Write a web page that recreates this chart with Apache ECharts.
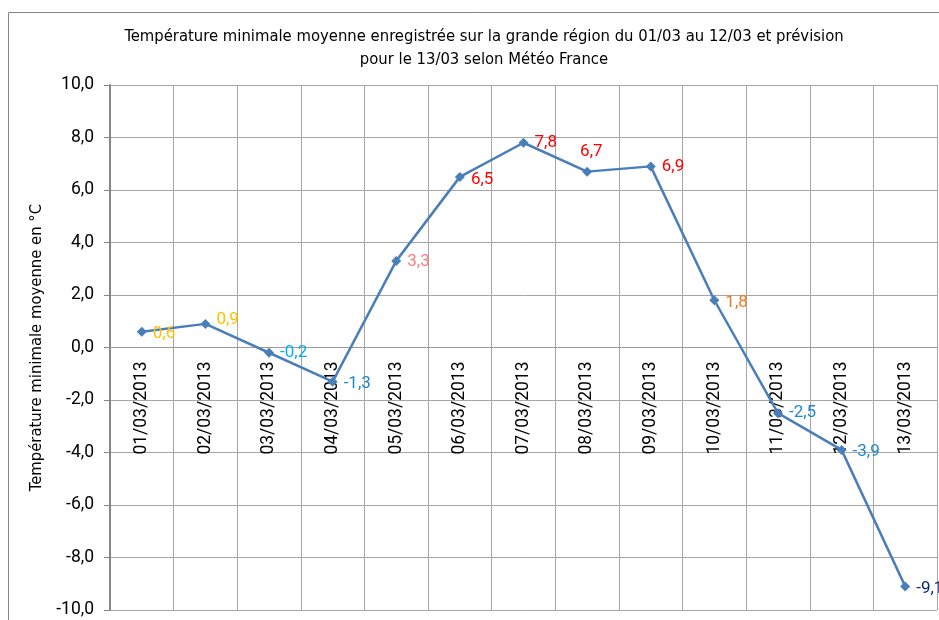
<!DOCTYPE html>
<html><head><meta charset="utf-8">
<script src="https://cdn.jsdelivr.net/npm/echarts@6/dist/echarts.min.js"></script>
<style>html,body{margin:0;padding:0;background:#fff}#c{width:939px;height:620px}</style>
</head><body><div id="c"></div>
<script>
const categories = ['01/03/2013','02/03/2013','03/03/2013','04/03/2013','05/03/2013','06/03/2013','07/03/2013','08/03/2013','09/03/2013','10/03/2013','11/03/2013','12/03/2013','13/03/2013'];
const values = [0.6, 0.9, -0.2, -1.3, 3.3, 6.5, 7.8, 6.7, 6.9, 1.8, -2.5, -3.9, -9.1];
const yTicks = {min: -10, max: 10, interval: 2};

// label styling (not data)
const labelColors = ['#FFC000','#FFC000','#00B0F0','#1E88D0','#FF7C80','#FF0000','#FF0000','#FF0000','#FF0000','#F07820','#1E88D0','#1E88D0','#0A2A78'];
const labelOffsets = [[0,2],[0,-4],[0,0],[0,2],[0,1],[0,3],[0,0],[-18,-20],[0,0],[0,2],[0,0],[0,2],[0,2]];

const fmt = v => v.toFixed(1).replace('.', ',');
const gridTop = 85, gridBottom = 10, H = 620;
const gridH = H - gridTop - gridBottom;
const zeroOffset = -gridH * (0 - yTicks.min) / (yTicks.max - yTicks.min);

const chart = echarts.init(document.getElementById('c'), null, {renderer:'canvas'});
chart.setOption({
  animation: false,
  title: {
    text: 'Température minimale moyenne enregistrée sur la grande région du 01/03 au 12/03 et prévision\npour le 13/03 selon Météo France',
    left: 479, top: 20, textAlign: 'center',
    textStyle: {fontFamily: 'DejaVu Sans Condensed', fontSize: 16.5, fontWeight: 'normal', color: '#000', lineHeight: 23}
  },
  graphic: [{
    type: 'rect', shape: {x: 8.5, y: 12.5, width: 940, height: 620},
    style: {fill: 'none', stroke: '#868686', lineWidth: 1}, silent: true, z: -1
  }],
  grid: {left: 110, right: 2, top: gridTop, bottom: gridBottom, containLabel: false, outerBoundsMode: 'none'},
  xAxis: {
    type: 'category', data: categories, boundaryGap: true,
    position: 'bottom', offset: zeroOffset,
    axisLine: {onZero: false, lineStyle: {color: '#9a9a9a', width: 1}},
    axisTick: {show: false},
    axisLabel: {rotate: 90, color: '#000', fontFamily: 'Roboto', fontSize: 17.5, margin: 14, interval: 0},
    splitLine: {show: true, interval: 0, lineStyle: {color: '#a6a6a6', width: 1}}
  },
  yAxis: {
    type: 'value', min: yTicks.min, max: yTicks.max, interval: yTicks.interval,
    name: 'Température minimale moyenne en °C', nameLocation: 'middle', nameGap: 64, nameRotate: 90,
    nameTextStyle: {fontFamily: 'DejaVu Sans Condensed', fontSize: 16.5, color: '#000'},
    axisLine: {show: true, lineStyle: {color: '#868686', width: 2}},
    axisTick: {show: true, length: 6, lineStyle: {color: '#868686'}},
    axisLabel: {formatter: fmt, color: '#000', fontFamily: 'Roboto', fontSize: 17.5, margin: 16},
    splitLine: {show: true, lineStyle: {color: '#a6a6a6', width: 1}}
  },
  series: [{
    type: 'line',
    data: values.map((v, i) => ({
      value: v,
      label: {color: labelColors[i], offset: labelOffsets[i]}
    })),
    symbol: 'diamond', symbolSize: 10,
    lineStyle: {color: '#4A7EBB', width: 2.5},
    itemStyle: {color: '#4A7EBB'},
    label: {show: true, position: 'right', distance: 6, fontFamily: 'Roboto', fontSize: 17, formatter: p => fmt(p.value)}
  }]
});
</script></body></html>
